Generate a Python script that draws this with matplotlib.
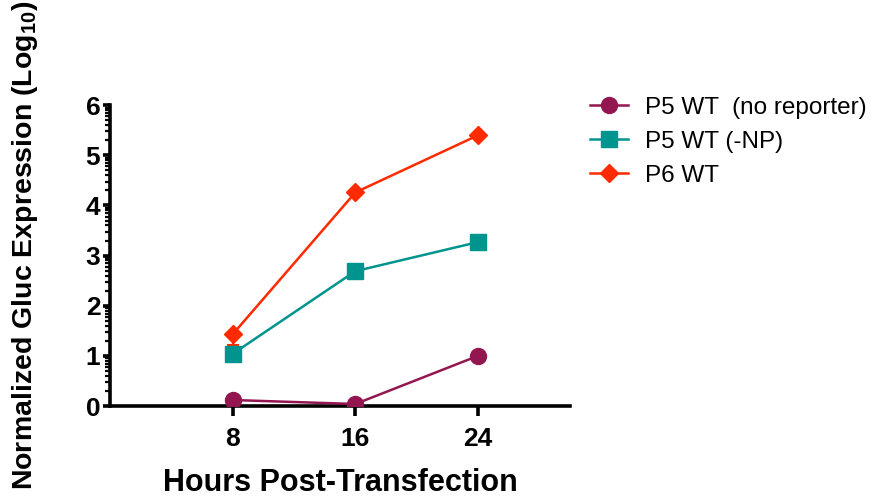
import matplotlib
matplotlib.use("Agg")
import matplotlib.pyplot as plt
import numpy as np
from matplotlib.ticker import FixedLocator

plt.rcParams['font.family'] = ['Liberation Sans', 'DejaVu Sans']
plt.rcParams['mathtext.default'] = 'regular'

hours = [8, 16, 24]
p5_no_reporter = [0.12, 0.04, 1.00]
p5_minus_np = [1.04, 2.69, 3.27]
p6_wt = [1.43, 4.26, 5.40]
p6_err_low = [0.22, 0.0, 0.0]

labels = ['P5 WT  (no reporter)', 'P5 WT (-NP)', 'P6 WT']
colors = ['#941651', '#00948F', '#FF2A00']
yticks = [0, 1, 2, 3, 4, 5, 6]
xticks = [8, 16, 24]

fig = plt.figure(figsize=(8.76, 4.98), dpi=100)
ax = fig.add_axes([0.1256, 0.1847, 0.525, 0.604])

ax.errorbar(hours, p6_wt, yerr=[p6_err_low, [0, 0, 0]], color=colors[2], lw=1.5,
            capsize=4, capthick=1.5, fmt='none', zorder=2)
ax.plot(hours, p5_no_reporter, color=colors[0], lw=1.8, marker='o', ms=11.5,
        label=labels[0], zorder=3)
ax.plot(hours, p5_minus_np, color=colors[1], lw=1.8, marker='s', ms=11.5,
        label=labels[1], zorder=3)
ax.plot(hours, p6_wt, color=colors[2], lw=1.8, marker='D', ms=9.5,
        label=labels[2], zorder=4)

ax.set_xlim(0, 30)
ax.set_ylim(0, 6)
ax.set_xticks(xticks)
ax.set_yticks(yticks)
minor = [k + np.log10(m) for k in range(6) for m in range(2, 10)]
ax.yaxis.set_minor_locator(FixedLocator(minor))

for s in ['top', 'right']:
    ax.spines[s].set_visible(False)
for s in ['left', 'bottom']:
    ax.spines[s].set_linewidth(2.6)
ax.spines['left'].set_capstyle('projecting')

ax.tick_params(axis='both', which='major', width=2.6, length=5, direction='out',
               labelsize=19, pad=2)
ax.tick_params(axis='y', which='minor', width=1.6, length=3.5, direction='out')
ax.tick_params(axis='x', which='major', length=7, pad=8)
for lab in ax.get_xticklabels() + ax.get_yticklabels():
    lab.set_fontweight('bold')

ax.set_xlabel('Hours Post-Transfection', fontsize=22, fontweight='bold', labelpad=12)
fig.text(25 / 876, 1 - 245 / 498, 'Normalized Gluc Expression (Log$_{10}$)',
         fontsize=20.5, fontweight='bold', rotation=90, ha='center', va='center')

fig.legend(loc='upper left', bbox_to_anchor=(0.648, 0.85), frameon=False,
           fontsize=17.5, handlelength=1.6, labelspacing=0.5, handletextpad=0.7)

fig.savefig('out.png', dpi=100)
